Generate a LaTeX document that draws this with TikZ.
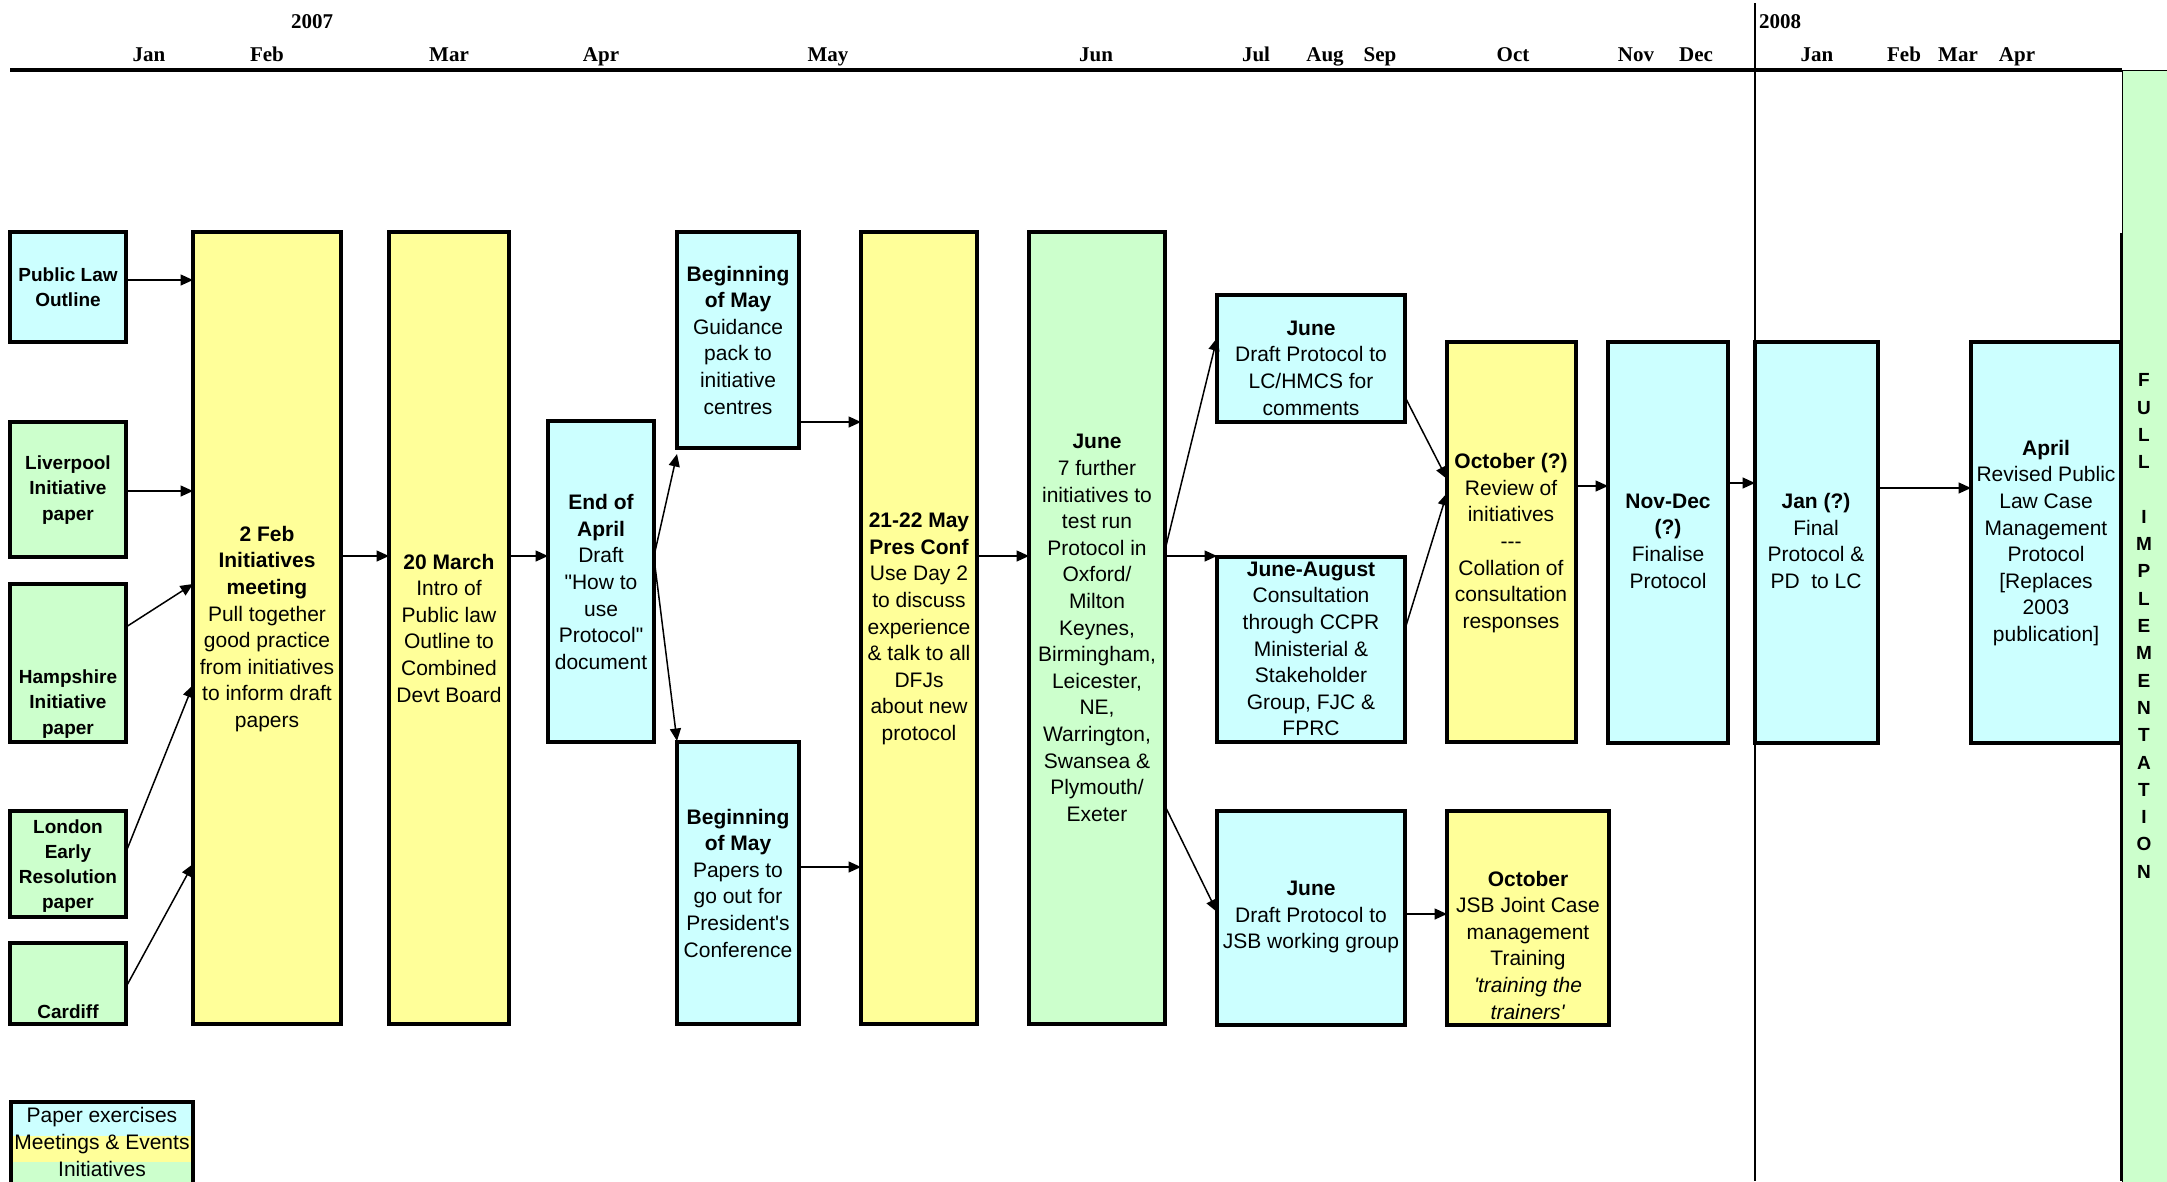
\documentclass[tikz,border=0pt]{standalone}
\usepackage{fontspec}
\setmainfont{Liberation Sans}[Ligatures=TeXOff]
\newfontfamily\mfont{Liberation Serif}
\usetikzlibrary{arrows.meta,fit}
\definecolor{pcyan}{HTML}{CCFFFF}
\definecolor{pyel}{HTML}{FFFF99}
\definecolor{pgrn}{HTML}{CCFFCC}
\begin{document}
\begin{tikzpicture}[x=1pt,y=-1pt,
  box/.style={draw, line width=3.2pt, inner sep=0pt, outer sep=0pt},
  txt/.style={align=center, inner sep=0pt, font=\fontsize{21}{26.6}\selectfont},
  stxt/.style={align=center, inner sep=0pt, font=\fontsize{19}{25.2}\selectfont\bfseries},
  arr/.style={line width=1.5pt, -{Triangle[length=12.5pt,width=11pt]}},
  mon/.style={font=\mfont\bfseries\fontsize{21}{24}\selectfont, anchor=base, inner sep=0pt}]
\useasboundingbox (0,0) rectangle (2167,1181);

% full implementation column
\node[draw, line width=0.8pt, fill=pgrn, inner sep=0pt, outer sep=0pt, fit={(2122,70)(2180,1200)}] (full) {};
\draw[line width=3pt] (2121.5,233) -- (2121.5,1181);
\node[font=\fontsize{19}{27.3}\selectfont\bfseries, align=center, inner sep=0pt] (fulltxt) at (2144,626)
  {F\\U\\L\\L\\[27.3pt]I\\M\\P\\L\\E\\M\\E\\N\\T\\A\\T\\I\\O\\N};

% header
\draw[line width=3.2pt] (10,70) -- (2122,70);
\draw[line width=2.8pt] (1755,3) -- (1755,1181);
\node[mon] (y2007) at (312,28) {2007};
\node[mon, anchor=base west] (y2008) at (1759,28) {2008};
\node[mon] (m1) at (149,61) {Jan};
\node[mon] (m2) at (267,61) {Feb};
\node[mon] (m3) at (449,61) {Mar};
\node[mon] (m4) at (601,61) {Apr};
\node[mon] (m5) at (828,61) {May};
\node[mon] (m6) at (1096,61) {Jun};
\node[mon] (m7) at (1256,61) {Jul};
\node[mon] (m8) at (1325,61) {Aug};
\node[mon] (m9) at (1380,61) {Sep};
\node[mon] (m10) at (1513,61) {Oct};
\node[mon] (m11) at (1636,61) {Nov};
\node[mon] (m12) at (1696,61) {Dec};
\node[mon] (n1) at (1817,61) {Jan};
\node[mon] (n2) at (1904,61) {Feb};
\node[mon] (n3) at (1958,61) {Mar};
\node[mon] (n4) at (2017,61) {Apr};

% boxes
\node[box, fill=pcyan, fit={(10,232)(126,342)}] (plo) {};
\node[box, fill=pgrn, fit={(10,422)(126,557)}] (liv) {};
\node[box, fill=pgrn, fit={(10,584)(126,742)}] (ham) {};
\node[box, fill=pgrn, fit={(10,811)(126,917)}] (lon) {};
\node[box, fill=pgrn, fit={(10,943)(126,1024)}] (car) {};
\node[box, fill=pyel, fit={(193,232)(341,1024)}] (feb) {};
\node[box, fill=pyel, fit={(389,232)(509,1024)}] (mar) {};
\node[box, fill=pcyan, fit={(548,421)(654,742)}] (apr) {};
\node[box, fill=pcyan, fit={(677,232)(799,448)}] (bomt) {};
\node[box, fill=pcyan, fit={(677,742)(799,1024)}] (bomb) {};
\node[box, fill=pyel, fit={(861,232)(977,1024)}] (pres) {};
\node[box, fill=pgrn, fit={(1029,232)(1165,1024)}] (jun) {};
\node[box, fill=pcyan, fit={(1217,295)(1405,422)}] (junlc) {};
\node[box, fill=pcyan, fit={(1217,557)(1405,742)}] (junaug) {};
\node[box, fill=pcyan, fit={(1217,811)(1405,1025)}] (junjsb) {};
\node[box, fill=pyel, fit={(1447,342)(1576,742)}] (oct) {};
\node[box, fill=pyel, fit={(1447,811)(1609,1025)}] (octjsb) {};
\node[box, fill=pcyan, fit={(1608,342)(1728,743)}] (nov) {};
\node[box, fill=pcyan, fit={(1755,342)(1878,743)}] (jan) {};
\node[box, fill=pcyan, fit={(1971,342)(2121,743)}] (aprl) {};

% texts
\node[stxt] (tplo) at (68,287) {Public Law\\Outline};
\node[stxt] (tliv) at (68,490) {Liverpool\\Initiative\\paper};
\node[stxt] (tham) at (68,704) {Hampshire\\Initiative\\paper};
\node[stxt] (tlon) at (68,866) {London\\Early\\Resolution\\paper};
\node[stxt] (tcar) at (68,1012) {Cardiff};
\node[txt] (tfeb) at (267,629) {\textbf{2 Feb}\\\textbf{Initiatives}\\\textbf{meeting}\\Pull together\\good practice\\from initiatives\\to inform draft\\papers};
\node[txt] (tmar) at (449,628) {\textbf{20 March}\\Intro of\\Public law\\Outline to\\Combined\\Devt Board};
\node[txt] (tapr) at (601,582) {\textbf{End of}\\\textbf{April}\\Draft\\"How to\\use\\Protocol"\\document};
\node[txt] (tbomt) at (738,340) {\textbf{Beginning}\\\textbf{of May}\\Guidance\\pack to\\initiative\\centres};
\node[txt] (tbomb) at (738,883) {\textbf{Beginning}\\\textbf{of May}\\Papers to\\go out for\\President's\\Conference};
\node[txt] (tpres) at (919,629) {\textbf{21-22 May}\\\textbf{Pres Conf}\\Use Day 2\\to discuss\\experience\\\& talk to all\\DFJs\\about new\\protocol};
\node[txt] (tjun) at (1097,628) {\textbf{June}\\7 further\\initiatives to\\test run\\Protocol in\\Oxford/\\Milton\\Keynes,\\Birmingham,\\Leicester,\\NE,\\Warrington,\\Swansea \&\\Plymouth/\\Exeter};
\node[txt] (tjunlc) at (1311,368) {\textbf{June}\\Draft Protocol to\\LC/HMCS for\\comments};
\node[txt] (tjunaug) at (1311,649) {\textbf{June-August}\\Consultation\\through CCPR\\Ministerial \&\\Stakeholder\\Group, FJC \&\\FPRC};
\node[txt] (toct) at (1511,543) {\textbf{October (?)}\\Review of\\initiatives\\---\\Collation of\\consultation\\responses};
\node[txt] (tnov) at (1668,541) {\textbf{Nov-Dec}\\\textbf{(?)}\\Finalise\\Protocol};
\node[txt] (tjan) at (1816,541) {\textbf{Jan (?)}\\Final\\Protocol \&\\PD\ \ to LC};
\node[txt] (taprl) at (2046,543) {\textbf{April}\\Revised Public\\Law Case\\Management\\Protocol\\{[}Replaces\\2003\\publication{]}};
\node[txt] (tjunjsb) at (1311,917) {\textbf{June}\\Draft Protocol to\\JSB working group};
\node[txt] (toctjsb) at (1528,945) {\textbf{October}\\JSB Joint Case\\management\\Training\\\textit{'training the}\\\textit{trainers'}};

% arrows
\draw[arr] (plo.east |- 0,280) -- (feb.west |- 0,280);
\draw[arr] (liv.east |- 0,491) -- (feb.west |- 0,491);
\draw[arr] (ham.east |- 0,627) -- (feb.west |- 0,584);
\draw[arr] (lon.east |- 0,852) -- (feb.west |- 0,685);
\draw[arr] (car.east |- 0,987) -- (feb.west |- 0,864);
\draw[arr] (feb.east |- 0,556) -- (mar.west |- 0,556);
\draw[arr] (mar.east |- 0,556) -- (apr.west |- 0,556);
\draw[arr] (apr.east |- 0,556) -- (bomt.west |- 0,454);
\draw[arr] (apr.east |- 0,558) -- (bomb.west |- 0,741);
\draw[arr] (bomt.east |- 0,422) -- (pres.west |- 0,422);
\draw[arr] (bomb.east |- 0,867) -- (pres.west |- 0,867);
\draw[arr] (pres.east |- 0,556) -- (jun.west |- 0,556);
\draw[arr] (jun.east |- 0,550) -- (junlc.west |- 0,338);
\draw[arr] (jun.east |- 0,556) -- (junaug.west |- 0,556);
\draw[arr] (jun.east |- 0,806) -- (junjsb.west |- 0,912);
\draw[arr] (junlc.east |- 0,397) -- (oct.west |- 0,479);
\draw[arr] (junaug.east |- 0,629) -- (oct.west |- 0,493);
\draw[arr] (oct.east |- 0,486) -- (nov.west |- 0,486);
\draw[arr] (nov.east |- 0,483) -- (jan.west |- 0,483);
\draw[arr] (jan.east |- 0,488) -- (aprl.west |- 0,488);
\draw[arr] (junjsb.east |- 0,914) -- (octjsb.west |- 0,914);

% legend
\fill[pcyan] (11,1102) rectangle (193,1136);
\fill[pyel] (11,1136) rectangle (193,1162);
\fill[pgrn] (11,1162) rectangle (193,1200);
\node[box, fit={(11,1102)(193,1200)}] (leg) {};
\node[txt] (l1) at (102,1117) {Paper exercises};
\node[txt] (l2) at (102,1144) {Meetings \& Events};
\node[txt] (l3) at (102,1169) {Initiatives};
\end{tikzpicture}
\end{document}
